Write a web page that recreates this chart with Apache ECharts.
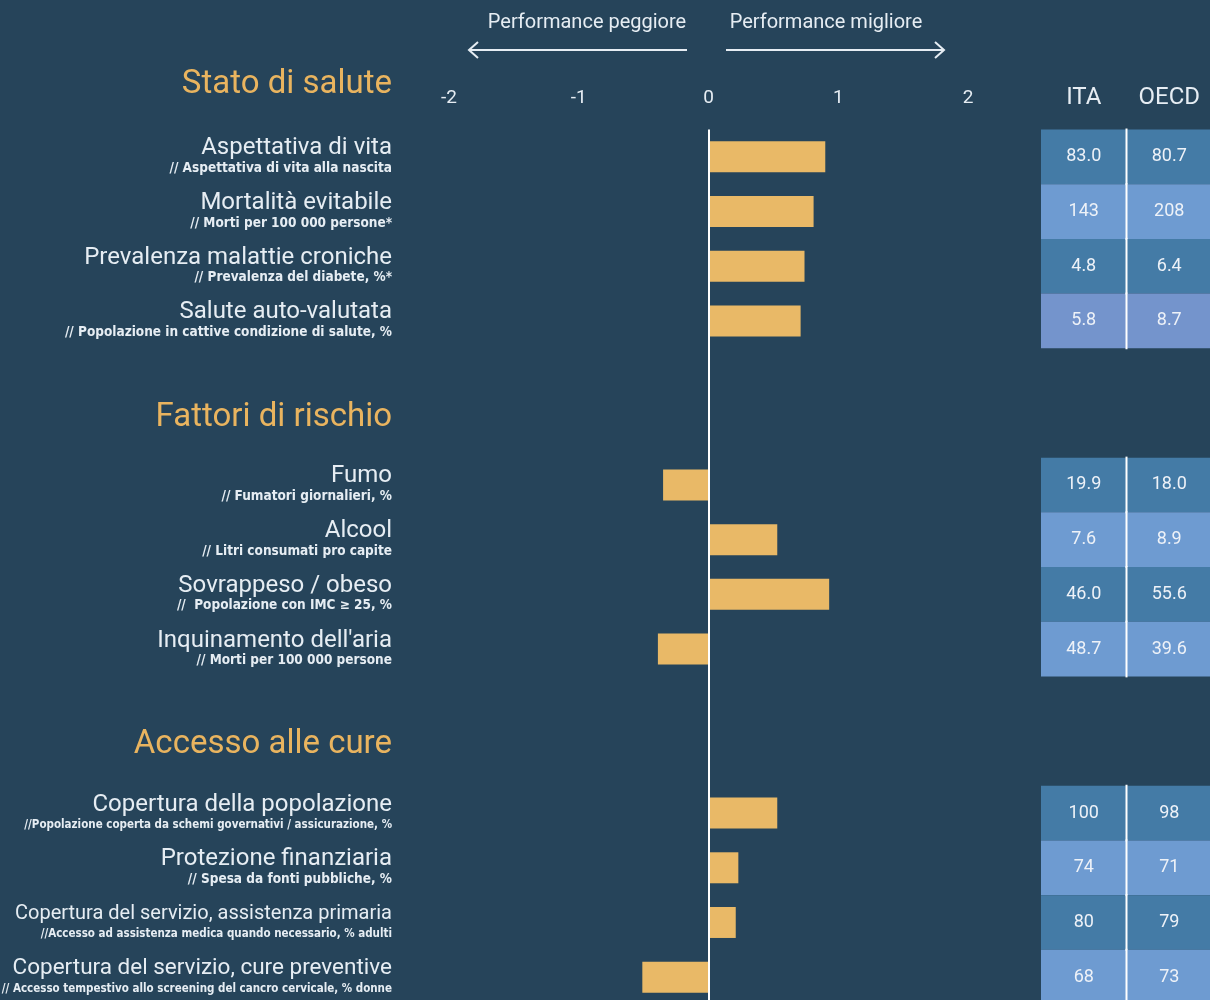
<!DOCTYPE html>
<html>
<head>
<meta charset="utf-8">
<script src="https://cdn.jsdelivr.net/npm/echarts@6/dist/echarts.min.js"></script>
<style>
  html, body { margin: 0; padding: 0; background: #26445a; }
  #chart { width: 1210px; height: 1000px; }
</style>
</head>
<body>
<div id="chart"></div>
<script>
// righe del grafico (le righe vuote separano le sezioni)
var categories = [
  'Aspettativa di vita', 'Mortalità evitabile', 'Prevalenza malattie croniche', 'Salute auto-valutata', '', '',
  'Fumo', 'Alcool', 'Sovrappeso / obeso', "Inquinamento dell'aria", '', '',
  'Copertura della popolazione', 'Protezione finanziaria',
  'Copertura del servizio, assistenza primaria', 'Copertura del servizio, cure preventive'
];
var subtitles = [
  '// Aspettativa di vita alla nascita', '// Morti per 100 000 persone*', '// Prevalenza del diabete, %*',
  '// Popolazione in cattive condizione di salute, %', '', '',
  '// Fumatori giornalieri, %', '// Litri consumati pro capite', '//  Popolazione con IMC ≥ 25, %',
  '// Morti per 100 000 persone', '', '',
  '//Popolazione coperta da schemi governativi / assicurazione, %', '// Spesa da fonti pubbliche, %',
  '//Accesso ad assistenza medica quando necessario, % adulti',
  '// Accesso tempestivo allo screening del cancro cervicale, % donne'
];
// punteggio standardizzato (performance)
var scores = [0.90, 0.81, 0.74, 0.71, null, null, -0.35, 0.53, 0.93, -0.39, null, null, 0.53, 0.23, 0.21, -0.51];
var itaValues = ['83.0', '143', '4.8', '5.8', null, null, '19.9', '7.6', '46.0', '48.7', null, null, '100', '74', '80', '68'];
var oecdValues = ['80.7', '208', '6.4', '8.7', null, null, '18.0', '8.9', '55.6', '39.6', null, null, '98', '71', '79', '73'];
var columns = ['ITA', 'OECD'];
var sections = ['Stato di salute', 'Fattori di rischio', 'Accesso alle cure'];

var txt = '#e6edf3';
var font = 'Roboto, sans-serif';
var subFont = "'DejaVu Sans Condensed', sans-serif";

// celle della tabella: [colonna, riga, testo]
var tableData = [];
itaValues.forEach(function (v, i) {
  if (v !== null) tableData.push([0, i, v]);
});
oecdValues.forEach(function (v, i) {
  if (v !== null) tableData.push([1, i, v]);
});

function cellColor(row) {
  var k = row % 6;
  if (k === 0 || k === 2) return '#447ba6';
  if (row === 3) return '#7494cc';
  return '#6e9bd1';
}

var chart = echarts.init(document.getElementById('chart'));
chart.setOption({
  backgroundColor: '#26445a',
  animation: false,
  textStyle: { fontFamily: font },
  grid: [
    { left: 449, right: 242, top: 129.5, height: 875, outerBoundsMode: 'none', containLabel: false },
    { left: 1041, width: 171, top: 129.5, height: 875, outerBoundsMode: 'none', containLabel: false }
  ],
  xAxis: [{
    type: 'value', gridIndex: 0, min: -2, max: 2, interval: 1, position: 'top',
    axisLine: { show: false }, axisTick: { show: false }, splitLine: { show: false },
    axisLabel: { color: txt, fontSize: 19, margin: 22, fontFamily: font }
  }, {
    type: 'category', gridIndex: 1, data: columns, position: 'top',
    axisLine: { show: false }, axisTick: { show: false }, splitLine: { show: false },
    axisLabel: { color: txt, fontSize: 24, margin: 20, fontFamily: font }
  }],
  yAxis: [{
    type: 'category', gridIndex: 0, data: categories, inverse: true,
    axisLine: { show: false }, axisTick: { show: false }, splitLine: { show: false },
    axisLabel: {
      margin: 57, align: 'right',
      formatter: function (val, idx) {
        if (!val) return '';
        // le etichette lunghe sono compresse come nell'originale
        var st = val.length > 40 ? 'c' : (val.length > 35 ? 'd' : 'a');
        var sub = subtitles[idx];
        var sst = sub.length > 50 ? 'e' : 'b';
        return '{' + st + '|' + val + '}\n{' + sst + '|' + sub + '}';
      },
      rich: {
        a: { fontSize: 24, lineHeight: 23, color: txt, fontFamily: font, align: 'right' },
        d: { fontSize: 22.5, lineHeight: 23, color: txt, fontFamily: font, align: 'right' },
        c: { fontSize: 20, lineHeight: 23, color: txt, fontFamily: font, align: 'right' },
        b: { fontSize: 13.5, fontWeight: 'bold', lineHeight: 17, color: txt, fontFamily: subFont, align: 'right' },
        e: { fontSize: 11.5, fontWeight: 'bold', lineHeight: 17, color: txt, fontFamily: subFont, align: 'right' }
      }
    }
  }, {
    type: 'category', gridIndex: 1, data: categories, inverse: true, show: false
  }],
  series: [{
    type: 'bar',
    xAxisIndex: 0, yAxisIndex: 0,
    data: scores,
    barWidth: 31,
    itemStyle: { color: '#e9b967' },
    markLine: {
      silent: true, symbol: 'none',
      label: { show: false },
      lineStyle: { color: '#ffffff', width: 2, type: 'solid' },
      data: [{ xAxis: 0 }]
    },
    z: 3
  }, {
    type: 'custom',
    xAxisIndex: 1, yAxisIndex: 1,
    data: tableData,
    renderItem: function (params, api) {
      var c = api.coord([api.value(0), api.value(1)]);
      var s = api.size([1, 1]);
      var x0 = c[0] - s[0] / 2, y0 = c[1] - s[1] / 2;
      var children = [{
        type: 'rect',
        shape: { x: x0, y: y0, width: s[0], height: s[1] },
        style: { fill: cellColor(api.value(1)) }
      }, {
        type: 'text',
        style: {
          x: c[0], y: c[1], text: tableData[params.dataIndex][2],
          fill: '#eef2f8', fontSize: 18, fontFamily: font,
          align: 'center', verticalAlign: 'middle'
        }
      }];
      if (api.value(0) === 1) {
        children.push({
          type: 'rect',
          shape: { x: x0 - 1, y: y0 - 1, width: 2, height: s[1] + 2 },
          style: { fill: '#ffffff' }
        });
      }
      return { type: 'group', children: children };
    }
  }],
  graphic: [
    { type: 'text', right: 1210 - 392, top: 68, style: { text: sections[0], fill: '#e9b45f', fontSize: 33, fontFamily: font } },
    { type: 'text', right: 1210 - 392, top: 401, style: { text: sections[1], fill: '#e9b45f', fontSize: 33, fontFamily: font } },
    { type: 'text', right: 1210 - 392, top: 728, style: { text: sections[2], fill: '#e9b45f', fontSize: 33, fontFamily: font } },
    { type: 'text', x: 587, y: 23, style: { text: 'Performance peggiore', fill: txt, fontSize: 20, fontFamily: font, align: 'center', verticalAlign: 'middle' } },
    { type: 'text', x: 826, y: 23, style: { text: 'Performance migliore', fill: txt, fontSize: 20, fontFamily: font, align: 'center', verticalAlign: 'middle' } },
    { type: 'polyline', shape: { points: [[687, 50], [469, 50]] }, style: { stroke: txt, lineWidth: 2, fill: null } },
    { type: 'polyline', shape: { points: [[478, 42], [469, 50], [478, 58]] }, style: { stroke: txt, lineWidth: 2, fill: null } },
    { type: 'polyline', shape: { points: [[726, 50], [944, 50]] }, style: { stroke: txt, lineWidth: 2, fill: null } },
    { type: 'polyline', shape: { points: [[935, 42], [944, 50], [935, 58]] }, style: { stroke: txt, lineWidth: 2, fill: null } }
  ]
});
</script>
</body>
</html>
